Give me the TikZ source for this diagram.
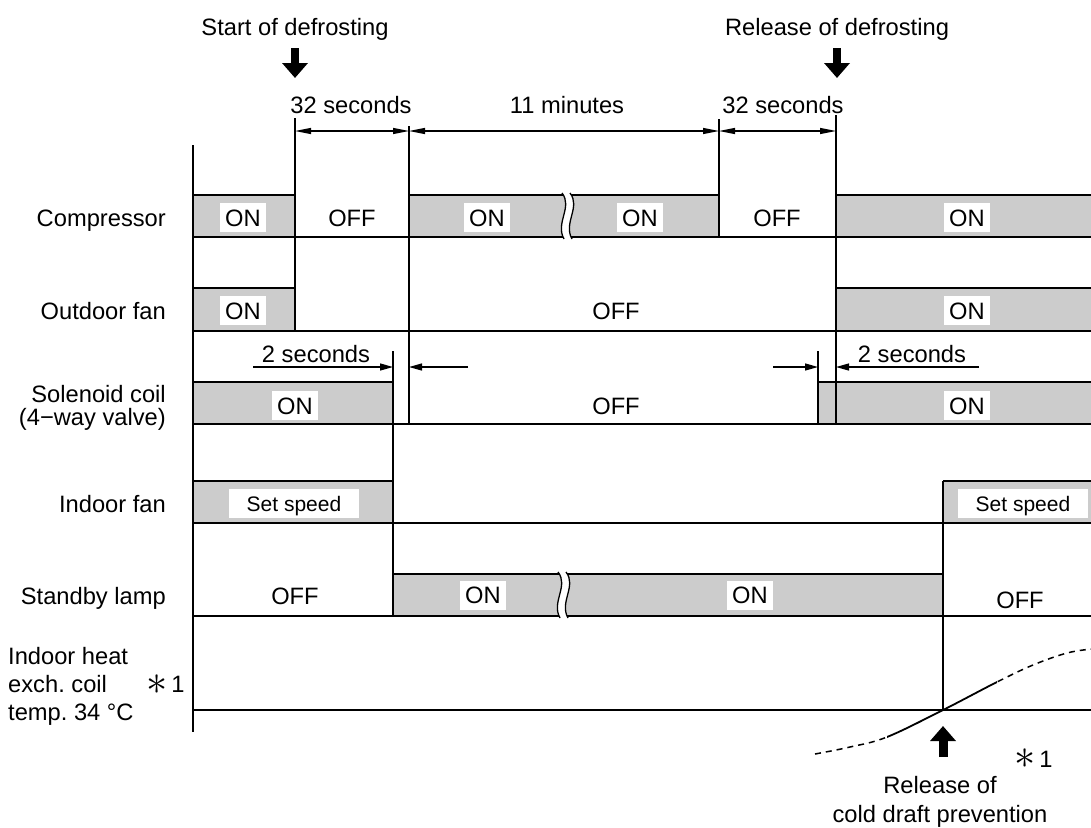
\documentclass[tikz,border=0pt]{standalone}
\usepackage{fontspec}
\usepackage{graphicx}
\setmainfont{Liberation Sans}
\usetikzlibrary{arrows.meta}
\definecolor{sig}{gray}{0.8}
\frenchspacing
\newcommand\zigbreak[3]{%
  \fill[white] (#1-5,#2-2) .. controls (#1+6,#2+12) and (#1-12,#3-14) .. (#1-3,#3+2)
     -- (#1+5,#3+2) .. controls (#1-4,#3-14) and (#1+14,#2+12) .. (#1+3,#2-2) -- cycle;
  \draw[brkline] (#1-5,#2-2) .. controls (#1+6,#2+12) and (#1-12,#3-14) .. (#1-3,#3+2);
  \draw[brkline] (#1+3,#2-2) .. controls (#1+14,#2+12) and (#1-4,#3-14) .. (#1+5,#3+2);
}
\begin{document}
\begin{tikzpicture}[x=1pt,y=-1pt,
  ln/.style={line width=1.8pt},
  brkline/.style={line width=1.3pt},
  txt/.style={font=\fontsize{23.7}{28}\selectfont\frenchspacing, inner sep=0pt, text height=17pt, text depth=0pt},
  astr/.style={font=\fontsize{23.7}{28}\selectfont, inner sep=0pt},
  onlbl/.style={txt, fill=white, inner xsep=5pt, inner ysep=6pt},
  setlbl/.style={font=\fontsize{21}{25}\selectfont, fill=white, text height=15pt, text depth=0pt, inner ysep=7pt, inner xsep=0pt, minimum width=130pt},
  dimline/.style={line width=1.3pt, {Triangle[length=16pt,width=6pt]}-{Triangle[length=16pt,width=6pt]}},
  twoarr/.style={line width=1.3pt, -{Triangle[length=13pt,width=7pt]}},
  bigarr/.style={line width=8pt, -{Triangle[length=15pt,width=25pt]}},
  ]
\useasboundingbox (0,0) rectangle (1091,827);

% ---------- gray signal fills ----------
\fill[sig] (193,195) rectangle (295,237);
\fill[sig] (409,195) rectangle (719,237);
\fill[sig] (836,195) rectangle (1091,237);
\fill[sig] (193,288) rectangle (295,331);
\fill[sig] (836,288) rectangle (1091,331);
\fill[sig] (193,382) rectangle (393,424);
\fill[sig] (818,382) rectangle (1091,424);
\fill[sig] (193,481) rectangle (393,523);
\fill[sig] (943,481) rectangle (1091,523);
\fill[sig] (393,574) rectangle (943,616);

% ---------- top edges ----------
\draw[ln] (193,195) -- (295,195) (409,195) -- (719,195) (836,195) -- (1091,195);
\draw[ln] (193,288) -- (295,288) (836,288) -- (1091,288);
\draw[ln] (193,382) -- (393,382) (818,382) -- (1091,382);
\draw[ln] (193,481) -- (393,481) (943,481) -- (1091,481);
\draw[ln] (393,574) -- (943,574);

% ---------- baselines ----------
\foreach \yy in {237,331,424,523,616,710} \draw[ln] (193,\yy) -- (1091,\yy);

% ---------- vertical lines ----------
\draw[ln] (193,145) -- (193,732);
\draw[ln] (295,118) -- (295,331);
\draw[ln] (409,126) -- (409,424);
\draw[ln] (719,119) -- (719,237);
\draw[ln] (836,115) -- (836,424);
\draw[ln] (393,351) -- (393,616);
\draw[ln] (818,351) -- (818,424);
\draw[ln] (943,481) -- (943,710);

% ---------- breaks ----------
\zigbreak{567}{195}{237}
\zigbreak{563}{574}{616}

% ---------- dimension arrows ----------
\coordinate (d1) at (295,131);
\coordinate (d2) at (409,131);
\coordinate (d3) at (719,131);
\coordinate (d4) at (836,131);
\draw[dimline] (d1) -- (d2);
\draw[dimline] (d2) -- (d3);
\draw[dimline] (d3) -- (d4);
\node[txt] (s32a) at (351,104.5) {32 seconds};
\node[txt] (m11) at (567,104.5) {11 minutes};
\node[txt] (s32b) at (783,104.5) {32 seconds};

% ---------- 2 seconds ----------
\coordinate (a1s) at (253,367);
\coordinate (a1e) at (393,367);
\coordinate (a2s) at (468,367);
\coordinate (a2e) at (409,367);
\coordinate (b1s) at (773,367);
\coordinate (b1e) at (818,367);
\coordinate (b2s) at (979,367);
\coordinate (b2e) at (836,367);
\draw[twoarr] (a1s) -- (a1e);
\draw[twoarr] (a2s) -- (a2e);
\draw[twoarr] (b1s) -- (b1e);
\draw[twoarr] (b2s) -- (b2e);
\node[txt] (two1) at (316,353.5) {2 seconds};
\node[txt] (two2) at (912,353.5) {2 seconds};

% ---------- big arrows and titles ----------
\node[txt] (start) at (295,27) {Start of defrosting};
\node[txt] (rel) at (837,27) {Release of defrosting};
\coordinate (sa1) at (295,48); \coordinate (sa2) at (295,78);
\coordinate (ra1) at (837,48); \coordinate (ra2) at (837,78);
\draw[bigarr] (sa1) -- (sa2);
\draw[bigarr] (ra1) -- (ra2);
\coordinate (ua1) at (943,757); \coordinate (ua2) at (943,726);
\draw[bigarr, line width=9pt] (ua1) -- (ua2);

% ---------- row labels on the left ----------
\node[txt, anchor=east] (lc) at (166,217.5) {Compressor};
\node[txt, anchor=east] (lo) at (166,311) {Outdoor fan};
\node[txt, anchor=base east] (ls1) at (166,402) {Solenoid coil};
\node[txt, anchor=base east] (ls2) at (166,425) {(4−way valve)};
\node[txt, anchor=east] (li) at (166,503.5) {Indoor fan};
\node[txt, anchor=east] (lsb) at (166,595.5) {Standby lamp};
\node[txt, anchor=base west] (lh1) at (8,664) {Indoor heat};
\node[txt, anchor=base west] (lh2) at (8,692) {exch. coil};
\node[txt, anchor=base west] (lh3) at (8,720) {temp. 34 °C};
\node[astr] (ast1) at (157,684.5) {\scalebox{1.7}{$\ast$}};
\node[txt] (one1) at (178,684) {1};

% ---------- compressor row ----------
\node[onlbl] (c1) at (243,217.5) {ON};
\node[txt] (c2) at (352,217.5) {OFF};
\node[onlbl] (c3) at (487,217.5) {ON};
\node[onlbl] (c4) at (640,217.5) {ON};
\node[txt] (c5) at (777,217.5) {OFF};
\node[onlbl] (c6) at (967,217.5) {ON};

% ---------- outdoor fan row ----------
\node[onlbl] (o1) at (243,310.5) {ON};
\node[txt] (o2) at (616,310.5) {OFF};
\node[onlbl] (o3) at (967,310.5) {ON};

% ---------- solenoid row ----------
\node[onlbl] (v1) at (295,405.5) {ON};
\node[txt] (v2) at (616,405.5) {OFF};
\node[onlbl] (v3) at (967,405.5) {ON};

% ---------- indoor fan row ----------
\node[setlbl] (f1) at (294,503.5) {Set speed};
\node[setlbl] (f2) at (1023,503.5) {Set speed};

% ---------- standby lamp row ----------
\node[txt] (sb1) at (295,595.5) {OFF};
\node[onlbl] (sb2) at (483,595) {ON};
\node[onlbl] (sb3) at (750,595) {ON};
\node[txt] (sb4) at (1020,600) {OFF};

% ---------- temperature curve ----------
\begin{scope}
  \clip (700,600) rectangle (887,800) (997,600) rectangle (1091,800);
  \draw[line width=1.5pt, dash pattern=on 6pt off 5pt]
    plot[smooth, tension=0.6] coordinates {(815,754) (850,747) (887,737) (943,710) (997,682) (1033,665) (1067,653) (1092,649)};
\end{scope}
\begin{scope}
  \clip (887,600) rectangle (997,800);
  \draw[line width=1.8pt]
    plot[smooth, tension=0.6] coordinates {(815,754) (850,747) (887,737) (943,710) (997,682) (1033,665) (1067,653) (1092,649)};
\end{scope}

% ---------- bottom labels ----------
\node[astr] (ast2) at (1025,759) {\scalebox{1.7}{$\ast$}};
\node[txt] (one2) at (1046,759) {1};
\node[txt, anchor=base] (r1) at (940,793) {Release of};
\node[txt, anchor=base] (r2) at (940,822) {cold draft prevention};
\end{tikzpicture}
\end{document}
